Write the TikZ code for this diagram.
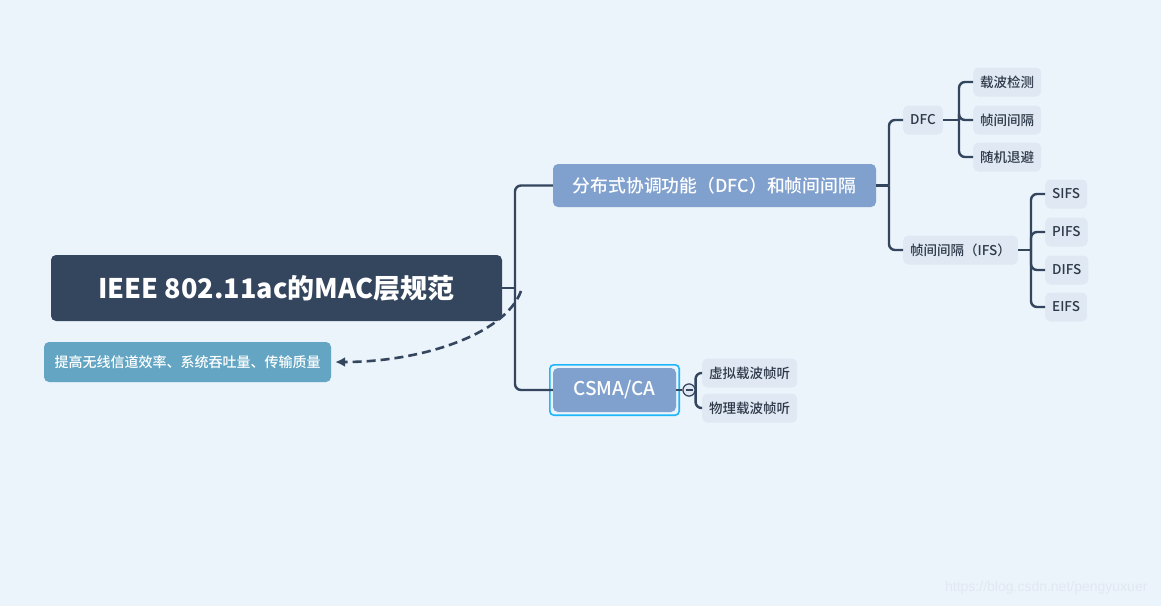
\documentclass[tikz,border=0pt]{standalone}
\usepackage{fontspec}
\setmainfont{Noto Sans CJK SC}
\IfFontExistsTF{Noto Sans CJK SC Medium}
  {\newfontfamily\medfont{Noto Sans CJK SC Medium}}
  {\newfontfamily\medfont{Noto Sans CJK SC}}
\newfontfamily\wmfont{Liberation Sans}
\usetikzlibrary{arrows.meta}

\definecolor{bgblue}{RGB}{235,243,251}
\definecolor{rootcol}{RGB}{52,69,94}
\definecolor{notecol}{RGB}{99,165,194}
\definecolor{maincol}{RGB}{128,160,205}
\definecolor{subcol}{RGB}{224,233,243}
\definecolor{subtext}{RGB}{45,56,72}
\definecolor{linkcol}{RGB}{52,69,94}
\definecolor{selcol}{RGB}{30,182,250}
\definecolor{wmcol}{RGB}{225,232,241}

\tikzset{
  roottopic/.style={fill=rootcol, text=white, rounded corners=5pt,
    font=\fontsize{27}{30}\selectfont\bfseries, inner sep=0pt},
  notetopic/.style={fill=notecol, text=white, rounded corners=5pt,
    font=\medfont\fontsize{14}{16}\selectfont, inner sep=0pt},
  maintopic/.style={fill=maincol, text=white, rounded corners=5pt,
    font=\medfont\fontsize{17.8}{20}\selectfont, inner sep=0pt},
  subtopic/.style={fill=subcol, text=subtext, rounded corners=5pt,
    font=\medfont\fontsize{13.5}{16}\selectfont, inner xsep=7pt, inner ysep=0pt,
    minimum height=29pt, anchor=west},
  link/.style={draw=linkcol, line width=2.4pt, rounded corners=6pt},
  dashlink/.style={draw=linkcol, line width=2.6pt, dash pattern=on 9pt off 5pt},
  selbox/.style={draw=selcol, line width=1.6pt, rounded corners=4pt},
  foldmark/.style={circle, draw=linkcol, fill=subcol, line width=1.1pt,
    minimum size=12pt, inner sep=0pt},
  watermark/.style={text=wmcol, font=\wmfont\fontsize{14}{16}\selectfont, anchor=east}
}

\begin{document}
\begin{tikzpicture}[x=1pt,y=-1pt,>=latex]
  \fill[bgblue] (0,0) rectangle (1161,606);
  \useasboundingbox (0,0) rectangle (1161,606);

  % topics
  \node[roottopic, minimum width=451pt, minimum height=66pt] (root) at (276.5,288) {IEEE 802.11ac的MAC层规范};
  \node[notetopic, minimum width=287pt, minimum height=40pt] (note) at (187.5,362) {提高无线信道效率、系统吞吐量、传输质量};
  \node[maintopic, minimum width=323pt, minimum height=43pt] (dcf) at (714.5,185.5) {分布式协调功能（DFC）和帧间间隔};
  \node[maintopic, minimum width=123pt, minimum height=44pt, font=\medfont\fontsize{19}{21}\selectfont] (csma) at (614.5,390) {CSMA/CA};
  \draw[selbox] ([xshift=-3pt,yshift=-3pt]csma.south west) rectangle ([xshift=3pt,yshift=3pt]csma.north east);

  % subtopics
  \node[subtopic] (dfc) at (903,120) {DFC};
  \node[subtopic] (ifs) at (903,250) {帧间间隔（IFS）};
  \node[subtopic] (cs) at (973,82) {载波检测};
  \node[subtopic] (gap) at (973,120) {帧间间隔};
  \node[subtopic] (bo) at (973,157) {随机退避};
  \node[subtopic] (sifs) at (1045,194) {SIFS};
  \node[subtopic] (pifs) at (1045,232) {PIFS};
  \node[subtopic] (difs) at (1045,270) {DIFS};
  \node[subtopic] (eifs) at (1045,307) {EIFS};
  \node[subtopic] (vcs) at (702,373) {虚拟载波帧听};
  \node[subtopic] (pcs) at (702,408) {物理载波帧听};

  % connectors
  \coordinate (j0) at (515,288);
  \draw[link] (root.east) -- (j0);
  \draw[link] (j0) |- (dcf.west);
  \draw[link] (j0) |- (csma.west);

  \coordinate (j1) at (889,185.5);
  \draw[link] (dcf.east) -- (j1);
  \foreach \k in {dfc,ifs} \draw[link] (j1) |- (\k.west);

  \coordinate (j2) at (959,120);
  \draw[link] (dfc.east) -- (j2);
  \foreach \k in {cs,gap,bo} \draw[link] (j2) |- (\k.west);

  \coordinate (j3) at (1031,250);
  \draw[link] (ifs.east) -- (j3);
  \foreach \k in {sifs,pifs,difs,eifs} \draw[link] (j3) |- (\k.west);

  \node[foldmark] (fold) at (689,390) {};
  \draw[link] (csma.east) -- (fold.west);
  \foreach \k in {vcs,pcs} \draw[link] (fold.east) |- (\k.west);
  \node[foldmark] at (fold) {};
  \draw[linkcol, line width=1.1pt] ([xshift=-3.5pt]fold.center) -- ([xshift=3.5pt]fold.center);

  % floating note link
  \coordinate (dstart) at (521,291);
  \draw[dashlink, -{Latex[length=10pt,width=10pt]}, shorten >=4pt] (dstart) .. controls (505,335) and (420,362) .. (note.east);

  \node[watermark] (wm) at (1151,588) {https://blog.csdn.net/pengyuxuer};
\end{tikzpicture}
\end{document}
